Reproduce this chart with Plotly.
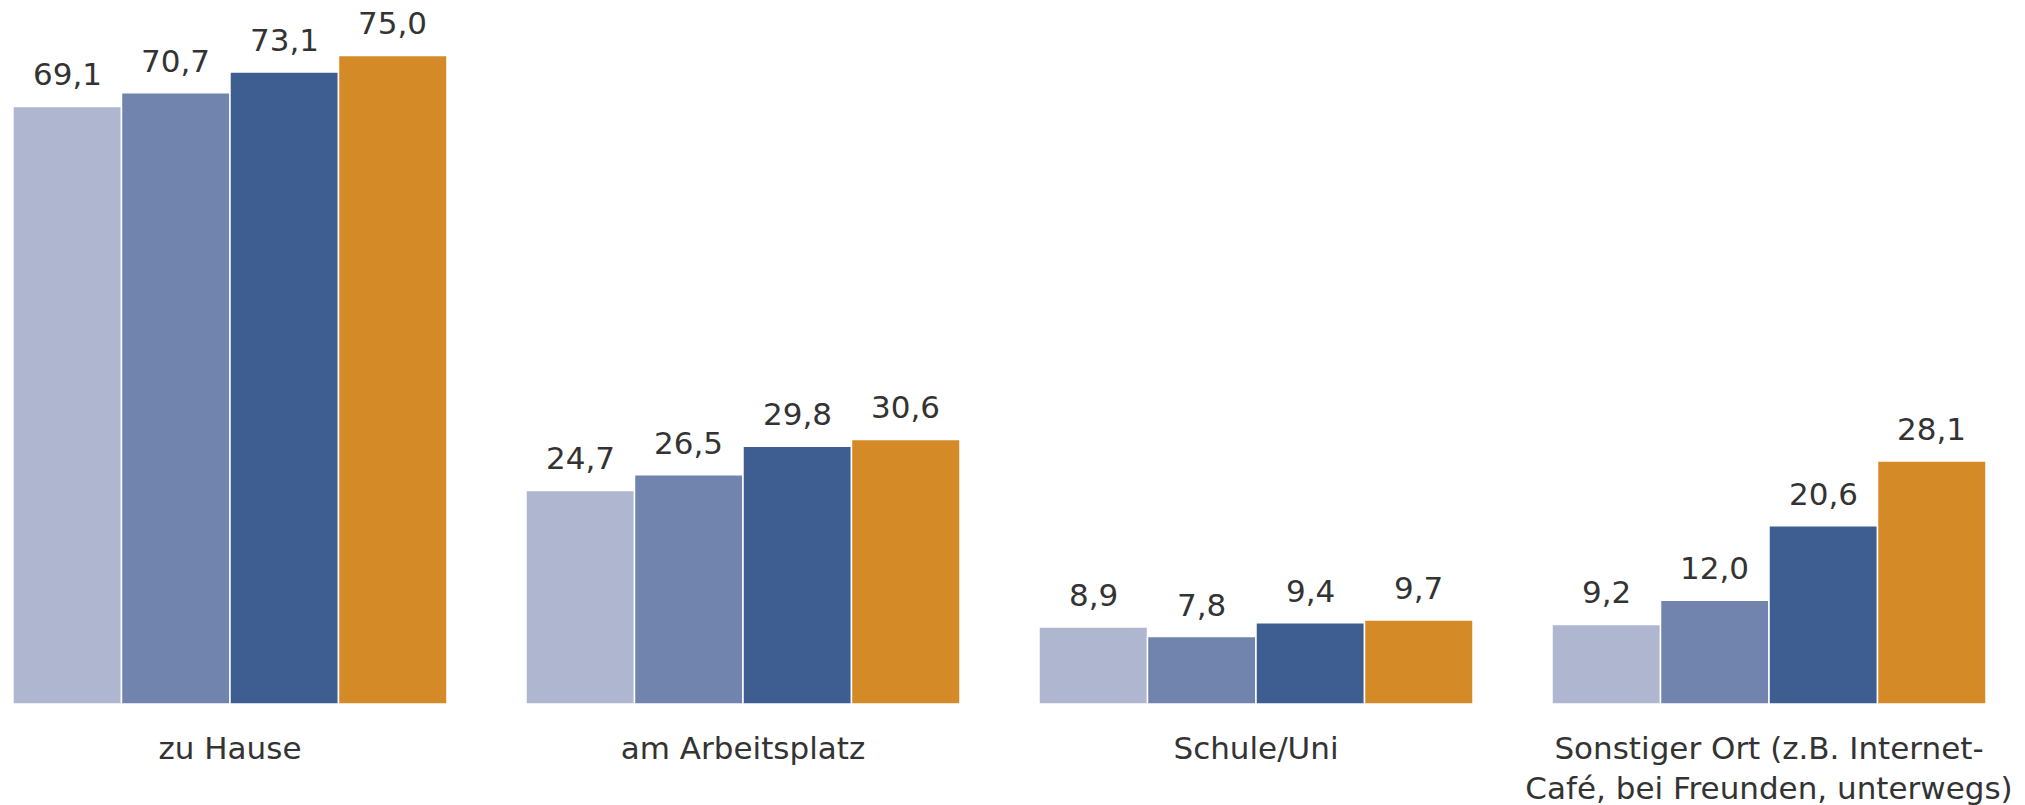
import plotly.graph_objects as go

# --- Daten ---
orte = ["zu Hause", "am Arbeitsplatz", "Schule/Uni",
        "Sonstiger Ort (z.B. Internet-<br>Café, bei Freunden, unterwegs)"]
serien = ["Reihe 1", "Reihe 2", "Reihe 3", "Reihe 4"]
werte_1 = [69.1, 24.7, 8.9, 9.2]
werte_2 = [70.7, 26.5, 7.8, 12.0]
werte_3 = [73.1, 29.8, 9.4, 20.6]
werte_4 = [75.0, 30.6, 9.7, 28.1]

# Farben
FARBEN = ["#afb6cf", "#7084ad", "#3e5d91", "#d58a28"]
TEXT_COLOR = "#333333"
FONT = "DejaVu Sans"
BAR_PX = 108.5  # Breite eines Balkens in Pixeln (für Beschriftungsversatz)

fig = go.Figure()
alle_werte = [werte_1, werte_2, werte_3, werte_4]
for i, (name, werte, farbe) in enumerate(zip(serien, alle_werte, FARBEN)):
    fig.add_trace(go.Bar(
        x=orte, y=werte, name=name,
        marker=dict(color=farbe, line=dict(color="white", width=1.5)),
        hovertemplate="%{y:.1f}<extra>" + name + "</extra>",
    ))
    # Wertebeschriftung über den Balken
    for ort, w in zip(orte, werte):
        fig.add_annotation(
            x=ort, y=w, text=f"{w:.1f}".replace(".", ","),
            showarrow=False, yanchor="bottom", yshift=12,
            xshift=(i - 1.5) * BAR_PX,
            font=dict(family=FONT, size=31, color=TEXT_COLOR),
        )

fig.update_layout(
    width=2017, height=797,
    barmode="group", bargap=0.154, bargroupgap=0,
    separators=",.",
    showlegend=False,
    paper_bgcolor="white", plot_bgcolor="white",
    font=dict(family=FONT, size=31, color=TEXT_COLOR),
    margin=dict(l=0, r=0, t=0, b=101),
    xaxis=dict(range=[-0.4327, 3.499], showgrid=False, zeroline=False,
               showline=False, ticks="", tickfont=dict(size=31),
               ticklabelstandoff=23),
    yaxis=dict(range=[0, 80.49], visible=False),
)

fig.write_html("out.html")
